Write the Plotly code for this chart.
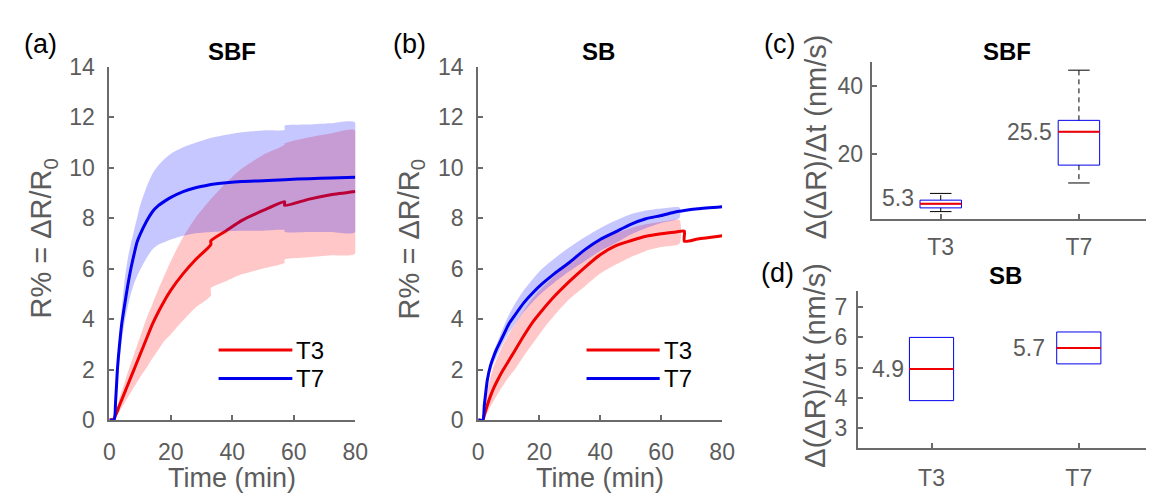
import plotly.graph_objects as go

# ---------------- data ----------------
# Panel (a) SBF : time (min) and R% curves
t_a = [0, 1.5, 2, 2.6, 3, 4, 5, 6, 7, 8, 9, 10, 12, 14, 16, 18, 20, 24, 28, 33, 33, 38, 43, 50, 57, 57, 65, 72, 80]
sbf_t7 = [0, 0, 0.7, 2.0, 2.6, 3.8, 4.6, 5.35, 6.0, 6.55, 7.05, 7.35, 7.85, 8.25, 8.5, 8.67, 8.82, 9.05, 9.2, 9.33, 9.33, 9.4, 9.45, 9.48, 9.52, 9.52, 9.56, 9.59, 9.62]
sbf_t7_hi = [0, 0, 0.8, 2.3, 2.9, 4.4, 5.6, 6.4, 7.0, 7.5, 8.0, 8.5, 9.2, 9.75, 10.1, 10.35, 10.55, 10.8, 10.98, 11.18, 11.18, 11.3, 11.4, 11.47, 11.5, 11.65, 11.7, 11.75, 11.78]
sbf_t7_lo = [0, 0, 0.4, 1.5, 2.0, 3.1, 3.9, 4.5, 5.0, 5.4, 5.7, 5.95, 6.4, 6.75, 6.95, 7.05, 7.15, 7.3, 7.4, 7.45, 7.45, 7.48, 7.5, 7.5, 7.52, 7.45, 7.45, 7.45, 7.45]
sbf_t3 = [0, 0.05, 0.2, 0.35, 0.5, 0.8, 1.1, 1.4, 1.7, 2.0, 2.3, 2.6, 3.2, 3.8, 4.3, 4.75, 5.15, 5.8, 6.35, 6.95, 7.1, 7.5, 7.9, 8.3, 8.65, 8.5, 8.75, 8.92, 9.05]
sbf_t3_hi = [0, 0.1, 0.3, 0.55, 0.75, 1.15, 1.5, 1.9, 2.25, 2.6, 2.95, 3.3, 4.0, 4.6, 5.2, 5.75, 6.3, 7.25, 8.0, 8.75, 8.75, 9.4, 9.95, 10.5, 10.9, 10.95, 11.2, 11.35, 11.47]
sbf_t3_lo = [0, 0, 0.1, 0.2, 0.3, 0.5, 0.7, 0.9, 1.1, 1.3, 1.5, 1.7, 2.05, 2.45, 2.8, 3.15, 3.4, 3.95, 4.45, 4.92, 5.23, 5.5, 5.77, 6.0, 6.23, 6.36, 6.45, 6.53, 6.6]

# Panel (b) SB
t_b = [0, 1.5, 2, 3, 4, 5, 6, 8, 10, 12, 15, 18, 21, 25, 30, 35, 40, 45, 50, 55, 60, 65, 67.6, 67.6, 72, 80]
sb_t7 = [0, 0, 0.6, 1.6, 2.15, 2.5, 2.8, 3.3, 3.8, 4.15, 4.65, 5.05, 5.4, 5.8, 6.25, 6.75, 7.15, 7.45, 7.75, 7.97, 8.1, 8.25, 8.3, 8.3, 8.37, 8.45]
sb_t3 = [0, 0, 0.2, 0.6, 0.95, 1.25, 1.5, 1.95, 2.35, 2.75, 3.35, 3.9, 4.35, 4.9, 5.5, 6.05, 6.55, 6.9, 7.1, 7.28, 7.38, 7.45, 7.48, 7.08, 7.17, 7.3]
t_band_b = [0, 1.5, 2, 3, 4, 5, 6, 8, 10, 12, 15, 18, 21, 25, 30, 35, 40, 45, 50, 55, 60, 66]
sb_t7_hi = [0, 0, 0.6, 1.7, 2.3, 2.7, 3.0, 3.6, 4.15, 4.6, 5.15, 5.6, 6.0, 6.4, 6.85, 7.25, 7.6, 7.9, 8.15, 8.3, 8.38, 8.42]
sb_t7_lo = [0, 0, 0.5, 1.4, 1.9, 2.25, 2.5, 3.0, 3.45, 3.8, 4.3, 4.7, 5.05, 5.45, 5.9, 6.3, 6.7, 7.0, 7.35, 7.6, 7.8, 8.0]
sb_t3_hi = [0, 0, 0.4, 1.2, 1.7, 2.1, 2.4, 2.95, 3.4, 3.8, 4.35, 4.85, 5.25, 5.7, 6.25, 6.75, 7.15, 7.4, 7.6, 7.75, 7.85, 7.92]
sb_t3_lo = [0, 0, 0.05, 0.3, 0.55, 0.75, 0.95, 1.35, 1.7, 2.0, 2.55, 3.05, 3.55, 4.15, 4.8, 5.3, 5.8, 6.15, 6.45, 6.7, 6.85, 6.98]

x_ticks_time = [0, 20, 40, 60, 80]
y_ticks_r = [0, 2, 4, 6, 8, 10, 12, 14]

# Panels (c), (d) box statistics
categories = ["T3", "T7"]
cat_pos = [1, 2]
sbf_q1 = [3.9, 16.6]
sbf_med = [5.1, 26.5]
sbf_q3 = [6.2, 29.9]
sbf_lo = [2.8, 11.3]
sbf_hi = [8.2, 44.8]
sbf_labels = ["5.3", "25.5"]
sb_q1 = [3.9, 5.12]
sb_med = [4.95, 5.65]
sb_q3 = [6.0, 6.18]
sb_labels = ["4.9", "5.7"]

# ---------------- style ----------------
RED = "#f00000"
BLUE = "#0000ee"
RED_BAND = "rgba(255,0,0,0.22)"
BLUE_BAND = "rgba(0,0,255,0.22)"
AX = "#6b6b6b"
TXT = "#5c5c5c"
FONT = "Liberation Sans, Arial, sans-serif"
W, H = 1154, 500
SMOOTH = 0.6

fig = go.Figure()


def band(t, hi, lo, color, xa, ya):
    fig.add_trace(go.Scatter(x=list(t) + list(t)[::-1], y=list(hi) + list(lo)[::-1],
                             fill="toself", fillcolor=color,
                             line=dict(width=0, shape="spline", smoothing=SMOOTH),
                             mode="lines", hoverinfo="skip", showlegend=False,
                             xaxis=xa, yaxis=ya))


def curve(t, y, color, name, xa, ya):
    fig.add_trace(go.Scatter(x=t, y=y, mode="lines",
                             line=dict(color=color, width=3, shape="spline", smoothing=SMOOTH),
                             name=name, showlegend=False, xaxis=xa, yaxis=ya))


# panel a
band(t_a, sbf_t3_hi, sbf_t3_lo, RED_BAND, "x", "y")
curve(t_a, sbf_t3, RED, "T3", "x", "y")
band(t_a, sbf_t7_hi, sbf_t7_lo, BLUE_BAND, "x", "y")
curve(t_a, sbf_t7, BLUE, "T7", "x", "y")
# panel b
band(t_band_b, sb_t3_hi, sb_t3_lo, RED_BAND, "x2", "y2")
curve(t_b, sb_t3, RED, "T3", "x2", "y2")
band(t_band_b, sb_t7_hi, sb_t7_lo, BLUE_BAND, "x2", "y2")
curve(t_b, sb_t7, BLUE, "T7", "x2", "y2")

# box panels
BOXW = 0.3
CAP = 0.078


def boxes(q1, med, q3, xa, ya, lo=None, hi=None):
    fig.add_trace(go.Box(x=cat_pos, q1=q1, median=med, q3=q3, lowerfence=q1, upperfence=q3,
                         width=BOXW, line=dict(color=BLUE, width=1), fillcolor="rgba(0,0,0,0)",
                         boxpoints=False, showlegend=False, hoverinfo="skip", whiskerwidth=0,
                         xaxis=xa, yaxis=ya))
    for i, c in enumerate(cat_pos):
        if lo is not None:
            for a, b in ((q3[i], hi[i]), (q1[i], lo[i])):
                fig.add_trace(go.Scatter(x=[c, c], y=[a, b], mode="lines",
                                         line=dict(color="black", width=1, dash="5px,4px"),
                                         showlegend=False, hoverinfo="skip", xaxis=xa, yaxis=ya))
            for v in (hi[i], lo[i]):
                fig.add_trace(go.Scatter(x=[c - CAP, c + CAP], y=[v, v], mode="lines",
                                         line=dict(color="black", width=1),
                                         showlegend=False, hoverinfo="skip", xaxis=xa, yaxis=ya))
        fig.add_trace(go.Scatter(x=[c - BOXW / 2, c + BOXW / 2], y=[med[i], med[i]], mode="lines",
                                 line=dict(color=RED, width=2),
                                 showlegend=False, hoverinfo="skip", xaxis=xa, yaxis=ya))


boxes(sbf_q1, sbf_med, sbf_q3, "x3", "y3", sbf_lo, sbf_hi)
boxes(sb_q1, sb_med, sb_q3, "x4", "y4")

# ---------------- layout ----------------
def px_x(p):
    return p / W


def px_y(p):
    return 1 - p / H


axis_common = dict(showline=True, linecolor=AX, linewidth=2, ticks="inside", ticklen=5,
                   tickwidth=2, tickcolor=AX, showgrid=False, zeroline=False, mirror=False,
                   tickfont=dict(family=FONT, size=23, color=TXT))

fig.update_layout(
    width=W, height=H, margin=dict(l=0, r=0, t=0, b=0),
    paper_bgcolor="white", plot_bgcolor="white", showlegend=False,
    font=dict(family=FONT, color=TXT),
    xaxis=dict(axis_common, domain=[px_x(97), px_x(347)], range=[0, 80], tickvals=x_ticks_time,
               anchor="y", ticklabelstandoff=10),
    yaxis=dict(axis_common, domain=[px_y(421), px_y(48)], range=[0, 14], tickvals=y_ticks_r,
               anchor="x", ticklabelstandoff=8),
    xaxis2=dict(axis_common, domain=[px_x(472), px_x(720)], range=[0, 80], tickvals=x_ticks_time,
                anchor="y2", ticklabelstandoff=10),
    yaxis2=dict(axis_common, domain=[px_y(421), px_y(48)], range=[0, 14], tickvals=y_ticks_r,
                anchor="x2", ticklabelstandoff=8),
    xaxis3=dict(axis_common, domain=[px_x(872), px_x(1153)], range=[0.5, 2.5], tickvals=cat_pos,
                ticktext=categories, anchor="y3", ticklabelstandoff=6),
    yaxis3=dict(axis_common, domain=[px_y(209), px_y(43)], range=[0.56, 47.3], tickvals=[20, 40],
                anchor="x3", ticklabelstandoff=2),
    xaxis4=dict(axis_common, domain=[px_x(858), px_x(1153)], range=[0.5, 2.47], tickvals=cat_pos,
                ticktext=categories, anchor="y4", ticklabelstandoff=9),
    yaxis4=dict(axis_common, domain=[px_y(450), px_y(285)], range=[2.34, 7.535], tickvals=[3, 4, 5, 6, 7],
                anchor="x4", ticklabelstandoff=4),
)

ann = []


def text(x, y, s, size, color="black", bold=False, angle=0, xanchor="center", yanchor="middle"):
    ann.append(dict(x=px_x(x), y=px_y(y), xref="paper", yref="paper", text=f"<b>{s}</b>" if bold else s,
                    showarrow=False, textangle=angle, xanchor=xanchor, yanchor=yanchor,
                    font=dict(family=FONT, size=size, color=color)))


# panel labels and titles
text(27, 24, "(a)", 27)
text(402, 24, "(b)", 27)
text(778, 24, "(c)", 27)
text(776, 266, "(d)", 27)
text(222, 32, "SBF", 24, bold=True)
text(594, 32, "SB", 24, bold=True)
text(1010, 32, "SBF", 24, bold=True)
text(1008, 268, "SB", 24, bold=True)
# axis titles
text(222, 482, "Time (min)", 27, TXT)
text(596, 482, "Time (min)", 27, TXT)
text(30, 230, "R% = ΔR/R<sub>0</sub>", 29, TXT, angle=-90)
text(404, 230, "R% = ΔR/R<sub>0</sub>", 29, TXT, angle=-90)
text(815, 122, "Δ(ΔR)/Δt (nm/s)", 29, TXT, angle=-90)
text(815, 363, "Δ(ΔR)/Δt (nm/s)", 29, TXT, angle=-90)

# box median labels (data-anchored)
for i, c in enumerate(cat_pos):
    ann.append(dict(x=c - BOXW / 2, y=sbf_med[i], xref="x3", yref="y3", text=sbf_labels[i],
                    showarrow=False, xanchor="right", yanchor="middle", xshift=-4,
                    yshift=6 if i == 0 else 0, font=dict(family=FONT, size=23, color=TXT)))
    ann.append(dict(x=c - BOXW / 2, y=sb_med[i], xref="x4", yref="y4", text=sb_labels[i],
                    showarrow=False, xanchor="right", yanchor="middle", xshift=-3 if i == 0 else -10,
                    font=dict(family=FONT, size=23, color=TXT)))

# manual legends for panels a and b
shapes = []
for xr, yr in (("x domain", "y domain"), ("x2 domain", "y2 domain")):
    for name, col, yy in (("T3", RED, 0.198), ("T7", BLUE, 0.118)):
        shapes.append(dict(type="line", xref=xr, yref=yr, x0=0.444, x1=0.744, y0=yy, y1=yy,
                           line=dict(color=col, width=3)))
        ann.append(dict(x=0.752, y=yy, xref=xr, yref=yr, text=name, showarrow=False,
                        xanchor="left", yanchor="middle", font=dict(family=FONT, size=24, color="black")))

fig.update_layout(annotations=ann, shapes=shapes)
fig.write_html("out.html")
